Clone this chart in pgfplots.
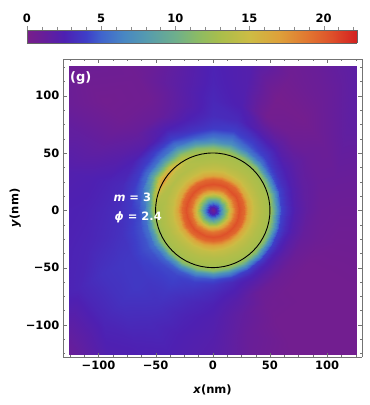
\documentclass[border=0pt]{standalone}
\usepackage{fontspec}
\setmainfont{DejaVu Sans}
\usepackage{pgfplots}
\pgfplotsset{compat=1.18}
\pgfplotsset{colormap={mma}{rgb255(0)=(120,30,138) rgb255(10)=(105,30,152) rgb255(25)=(78,32,178) rgb255(40)=(62,62,200) rgb255(50)=(64,100,205) rgb255(65)=(72,135,195) rgb255(80)=(85,155,175) rgb255(100)=(110,175,140) rgb255(115)=(140,187,100) rgb255(130)=(170,190,75) rgb255(150)=(205,188,68) rgb255(170)=(222,160,58) rgb255(190)=(225,115,48) rgb255(205)=(222,80,42) rgb255(222)=(212,32,32)}}
\newcommand{\tfont}{\bfseries\fontsize{11.5}{13}\selectfont}
\begin{document}
\begin{tikzpicture}
\useasboundingbox (0,0) rectangle (370pt,405pt);
\begin{axis}[
  at={(63pt,48pt)}, anchor=south west, scale only axis,
  width=299pt, height=298pt, view={0}{90},
  xmin=-131, xmax=130.5, ymin=-128, ymax=132,
  colormap name=mma, point meta min=0, point meta max=22.25,
  xtick={-100,-50,0,50,100}, xticklabels={−100,−50,0,50,100},
  ytick={-100,-50,0,50,100}, yticklabels={−100,−50,0,50,100},
  ztick=\empty,
  minor xtick={-125,-112.5,...,125}, minor ytick={-125,-112.5,...,125},
  tick align=inside, major tick length=4pt, minor tick length=2.3pt,
  axis line style={draw=black!55}, tick style={black!55},
  ticklabel style={font=\tfont, black},
  xlabel={\textit{x}(nm)}, ylabel={\textit{y}(nm)},
  label style={font=\tfont},
  xlabel style={at={(axis description cs:0.5,-0.111)}, anchor=center},
  ylabel style={at={(axis description cs:-0.16,0.5)}, anchor=center},
]
\clip (axis cs:-125.5,-125.5) rectangle (axis cs:125.5,125.5);
\addplot3[surf, shader=interp, point meta=explicit, mesh/rows=25, mesh/cols=24]
table[row sep=\\, x expr={\thisrow{r}*cos(\thisrow{t})}, y expr={\thisrow{r}*sin(\thisrow{t})}, z expr=0, meta=v] {
t r v\\
0 0 .5\\0 3 2.5\\0 6 5.5\\0 9 9\\0 12 12\\0 15 15.5\\0 19 19\\0 23 20.5\\0 27 19.5\\0 31 16.5\\0 36 14.5\\0 42 13.5\\0 47 13\\0 50 12.5\\0 53 10.5\\0 56 7\\0 60 4.2\\0 65 3.2\\0 72 2.2\\0 82 1.4\\0 95 .9\\0 112 .8\\0 135 .8\\0 180 .8\\
15 0 .5\\15 3 2.5\\15 6 5.5\\15 9 9\\15 12 12\\15 15 15.5\\15 19 19\\15 23 20.5\\15 27 19.5\\15 31 16.5\\15 36 14.5\\15 42 13.5\\15 47 13\\15 50 12.5\\15 53 10.5\\15 56 7\\15 60 4.2\\15 65 3.2\\15 72 2.3\\15 82 1.5\\15 95 1.1\\15 112 1.1\\15 135 1.1\\15 180 1.4\\
30 0 .5\\30 3 2.5\\30 6 5.5\\30 9 9\\30 12 12\\30 15 15.5\\30 19 19\\30 23 20.5\\30 27 19.5\\30 31 16.5\\30 36 14.5\\30 42 13.5\\30 47 13\\30 50 12.5\\30 53 10.5\\30 56 7.2\\30 60 4.5\\30 65 3.3\\30 72 2.5\\30 82 1.7\\30 95 1.1\\30 112 .9\\30 135 1.5\\30 180 1.8\\
45 0 .5\\45 3 2.5\\45 6 5.5\\45 9 9\\45 12 12\\45 15 15.5\\45 19 19\\45 23 20.5\\45 27 19.5\\45 31 16.5\\45 36 14.5\\45 42 13.5\\45 47 13\\45 50 12.5\\45 53 11\\45 56 8\\45 60 5.5\\45 65 4\\45 72 3\\45 82 1.7\\45 95 .6\\45 112 .3\\45 135 .9\\45 180 1.8\\
60 0 .5\\60 3 2.5\\60 6 5.5\\60 9 9\\60 12 12\\60 15 15.5\\60 19 19\\60 23 20.5\\60 27 19.5\\60 31 16.5\\60 36 14.5\\60 42 13.5\\60 47 13\\60 50 12.5\\60 53 11.5\\60 56 9\\60 60 6\\60 65 4.5\\60 72 3.5\\60 82 1.9\\60 95 .4\\60 112 .2\\60 135 .6\\60 180 1.2\\
75 0 .5\\75 3 2.5\\75 6 5.5\\75 9 9\\75 12 12\\75 15 15.5\\75 19 19\\75 23 20.5\\75 27 19.5\\75 31 16.5\\75 36 14.5\\75 42 13.5\\75 47 13\\75 50 13\\75 53 12\\75 56 10\\75 60 7\\75 65 5.5\\75 72 4\\75 82 3\\75 95 2.4\\75 112 2.2\\75 135 2.1\\75 180 1.7\\
90 0 .5\\90 3 2.5\\90 6 5.5\\90 9 9\\90 12 12\\90 15 15.5\\90 19 19\\90 23 20.5\\90 27 19.5\\90 31 16.5\\90 36 14.5\\90 42 13.5\\90 47 13\\90 50 13\\90 53 12.5\\90 56 10.5\\90 60 7.5\\90 65 5.5\\90 72 3.8\\90 82 3.1\\90 95 2.9\\90 112 2.7\\90 135 2.6\\90 180 2.6\\
105 0 .5\\105 3 2.5\\105 6 5.5\\105 9 9\\105 12 12\\105 15 15.5\\105 19 19\\105 23 20.5\\105 27 19.5\\105 31 16.5\\105 36 14.5\\105 42 13.5\\105 47 13\\105 50 13\\105 53 12.5\\105 56 11\\105 60 8\\105 65 5\\105 72 3.5\\105 82 2.6\\105 95 1.9\\105 112 1.8\\105 135 1.5\\105 180 1.1\\
120 0 .5\\120 3 2.5\\120 6 5.5\\120 9 9\\120 12 12\\120 15 15.5\\120 19 19\\120 23 20.5\\120 27 19.5\\120 31 16.5\\120 36 14.5\\120 42 13.5\\120 47 13.5\\120 50 14\\120 53 13.5\\120 56 12\\120 60 9\\120 65 6\\120 72 4\\120 82 2.5\\120 95 1.1\\120 112 .6\\120 135 .6\\120 180 .6\\
135 0 .5\\135 3 2.5\\135 6 5.5\\135 9 9\\135 12 12\\135 15 15.5\\135 19 19\\135 23 20.5\\135 27 19.5\\135 31 16.5\\135 36 14.5\\135 42 13.5\\135 47 14\\135 50 16\\135 53 15\\135 56 12\\135 60 8.5\\135 65 5.5\\135 72 4\\135 82 1.9\\135 95 1.2\\135 112 .6\\135 135 .4\\135 180 .8\\
150 0 .5\\150 3 2.5\\150 6 5.5\\150 9 9\\150 12 12\\150 15 15.5\\150 19 19\\150 23 20.5\\150 27 19.5\\150 31 16.5\\150 36 14.5\\150 42 13.5\\150 47 14.5\\150 50 17.5\\150 53 16\\150 56 12.5\\150 60 9\\150 65 5.5\\150 72 3.8\\150 82 2.6\\150 95 1.9\\150 112 1.4\\150 135 1.4\\150 180 1.4\\
165 0 .5\\165 3 2.5\\165 6 5.5\\165 9 9\\165 12 12\\165 15 15.5\\165 19 19\\165 23 20.5\\165 27 19.5\\165 31 16.5\\165 36 14.5\\165 42 13.5\\165 47 13.5\\165 50 14.5\\165 53 13\\165 56 10\\165 60 7\\165 65 5\\165 72 3.8\\165 82 3\\165 95 2.7\\165 112 2.4\\165 135 2.2\\165 180 1.9\\
180 0 .5\\180 3 2.5\\180 6 5.5\\180 9 9\\180 12 12\\180 15 15.5\\180 19 19\\180 23 20.5\\180 27 19.5\\180 31 16.5\\180 36 14.5\\180 42 13.5\\180 47 13\\180 50 13\\180 53 11.5\\180 56 8.5\\180 60 5.5\\180 65 4.3\\180 72 3.7\\180 82 3.2\\180 95 2.9\\180 112 2.6\\180 135 2.5\\180 180 2.4\\
195 0 .5\\195 3 2.5\\195 6 5.5\\195 9 9\\195 12 12\\195 15 15.5\\195 19 19\\195 23 20.5\\195 27 19.5\\195 31 16.5\\195 36 14.5\\195 42 13.5\\195 47 13\\195 50 12.5\\195 53 11\\195 56 8\\195 60 5.5\\195 65 4.5\\195 72 4\\195 82 3.4\\195 95 3.1\\195 112 2.8\\195 135 2.6\\195 180 2.5\\
210 0 .5\\210 3 2.5\\210 6 5.5\\210 9 9\\210 12 12\\210 15 15.5\\210 19 19\\210 23 20.5\\210 27 19.5\\210 31 16.5\\210 36 14.5\\210 42 13.5\\210 47 13\\210 50 12.5\\210 53 11\\210 56 8\\210 60 5.5\\210 65 4.6\\210 72 4.2\\210 82 3.7\\210 95 3.6\\210 112 3.4\\210 135 2.8\\210 180 2.2\\
225 0 .5\\225 3 2.5\\225 6 5.5\\225 9 9\\225 12 12\\225 15 15.5\\225 19 19\\225 23 20.5\\225 27 19.5\\225 31 16.5\\225 36 14.5\\225 42 13.5\\225 47 13\\225 50 12.5\\225 53 11\\225 56 7.5\\225 60 5\\225 65 4.3\\225 72 4\\225 82 3.7\\225 95 3.7\\225 112 3.4\\225 135 2.8\\225 180 .9\\
240 0 .5\\240 3 2.5\\240 6 5.5\\240 9 9\\240 12 12\\240 15 15.5\\240 19 19\\240 23 20.5\\240 27 19.5\\240 31 16.5\\240 36 14.5\\240 42 13.5\\240 47 13\\240 50 12.5\\240 53 11\\240 56 7.5\\240 60 4.8\\240 65 4.2\\240 72 4\\240 82 3.6\\240 95 3.3\\240 112 3\\240 135 2.6\\240 180 1.9\\
255 0 .5\\255 3 2.5\\255 6 5.5\\255 9 9\\255 12 12\\255 15 15.5\\255 19 19\\255 23 20.5\\255 27 19.5\\255 31 16.5\\255 36 14.5\\255 42 13.5\\255 47 13\\255 50 12.5\\255 53 11\\255 56 7.5\\255 60 4.8\\255 65 4\\255 72 3.5\\255 82 3\\255 95 2.7\\255 112 2.5\\255 135 2.4\\255 180 2.2\\
270 0 .5\\270 3 2.5\\270 6 5.5\\270 9 9\\270 12 12\\270 15 15.5\\270 19 19\\270 23 20.5\\270 27 19.5\\270 31 16.5\\270 36 14.5\\270 42 13.5\\270 47 13\\270 50 12.5\\270 53 11\\270 56 7.5\\270 60 4.5\\270 65 3.5\\270 72 3\\270 82 2.6\\270 95 2.3\\270 112 2.1\\270 135 1.9\\270 180 1.9\\
285 0 .5\\285 3 2.5\\285 6 5.5\\285 9 9\\285 12 12\\285 15 15.5\\285 19 19\\285 23 20.5\\285 27 19.5\\285 31 16.5\\285 36 14.5\\285 42 13.5\\285 47 13\\285 50 12.5\\285 53 10.5\\285 56 7\\285 60 4.2\\285 65 3\\285 72 2.5\\285 82 1.9\\285 95 1.4\\285 112 1.1\\285 135 .9\\285 180 .8\\
300 0 .5\\300 3 2.5\\300 6 5.5\\300 9 9\\300 12 12\\300 15 15.5\\300 19 19\\300 23 20.5\\300 27 19.5\\300 31 16.5\\300 36 14.5\\300 42 13.5\\300 47 13\\300 50 12.5\\300 53 10.5\\300 56 7\\300 60 4\\300 65 2.8\\300 72 1.9\\300 82 .9\\300 95 .6\\300 112 .4\\300 135 .4\\300 180 .4\\
315 0 .5\\315 3 2.5\\315 6 5.5\\315 9 9\\315 12 12\\315 15 15.5\\315 19 19\\315 23 20.5\\315 27 19.5\\315 31 16.5\\315 36 14.5\\315 42 13.5\\315 47 13\\315 50 12.5\\315 53 10.5\\315 56 7\\315 60 4\\315 65 2.7\\315 72 1.7\\315 82 .8\\315 95 .4\\315 112 .4\\315 135 .4\\315 180 .4\\
330 0 .5\\330 3 2.5\\330 6 5.5\\330 9 9\\330 12 12\\330 15 15.5\\330 19 19\\330 23 20.5\\330 27 19.5\\330 31 16.5\\330 36 14.5\\330 42 13.5\\330 47 13\\330 50 12.5\\330 53 10.5\\330 56 7\\330 60 4\\330 65 2.8\\330 72 1.8\\330 82 .9\\330 95 .4\\330 112 .4\\330 135 .4\\330 180 .4\\
345 0 .5\\345 3 2.5\\345 6 5.5\\345 9 9\\345 12 12\\345 15 15.5\\345 19 19\\345 23 20.5\\345 27 19.5\\345 31 16.5\\345 36 14.5\\345 42 13.5\\345 47 13\\345 50 12.5\\345 53 10.5\\345 56 7\\345 60 4.1\\345 65 3\\345 72 2.1\\345 82 1.2\\345 95 .8\\345 112 .6\\345 135 .6\\345 180 .6\\
360 0 .5\\360 3 2.5\\360 6 5.5\\360 9 9\\360 12 12\\360 15 15.5\\360 19 19\\360 23 20.5\\360 27 19.5\\360 31 16.5\\360 36 14.5\\360 42 13.5\\360 47 13\\360 50 12.5\\360 53 10.5\\360 56 7\\360 60 4.2\\360 65 3.2\\360 72 2.2\\360 82 1.4\\360 95 .9\\360 112 .8\\360 135 .8\\360 180 .8\\
};
\draw[black, line width=0.9pt] (axis cs:0,0) circle[radius=50];
\node[anchor=west, inner sep=0pt, white, font=\bfseries\fontsize{13}{15}\selectfont] at (axis cs:-125,115.5) {(g)};
\node[anchor=west, inner sep=0pt, white, font=\tfont] at (axis cs:-87,11.3) {\textit{m} = 3};
\node[anchor=west, inner sep=0pt, white, font=\tfont] at (axis cs:-86,-6.5) {\textit{ϕ} = 2.4};
\end{axis}
\begin{axis}[
  at={(27pt,362pt)}, anchor=south west, scale only axis,
  width=330pt, height=13pt, view={0}{90},
  xmin=0, xmax=22.25, ymin=0, ymax=1,
  colormap name=mma, point meta min=0, point meta max=22.25,
  ytick=\empty, ztick=\empty,
  xtick={0,5,10,15,20}, xticklabels={0,5,10,15,20},
  minor xtick={1,...,22},
  xtick pos=right, xticklabel pos=right, tick align=outside,
  major tick length=4pt, minor tick length=3pt,
  axis line style={draw=black!60}, tick style={black!45},
  ticklabel style={font=\tfont, black},
]
\addplot3[surf, shader=interp, point meta=explicit, mesh/rows=2, mesh/cols=24]
table[row sep=\\, z expr=0, meta=m] {
x y m\\
0 0 0\\1 0 1\\2 0 2\\3 0 3\\4 0 4\\5 0 5\\6 0 6\\7 0 7\\8 0 8\\9 0 9\\10 0 10\\11 0 11\\12 0 12\\13 0 13\\14 0 14\\15 0 15\\16 0 16\\17 0 17\\18 0 18\\19 0 19\\20 0 20\\21 0 21\\22 0 22\\22.25 0 22.25\\
0 1 0\\1 1 1\\2 1 2\\3 1 3\\4 1 4\\5 1 5\\6 1 6\\7 1 7\\8 1 8\\9 1 9\\10 1 10\\11 1 11\\12 1 12\\13 1 13\\14 1 14\\15 1 15\\16 1 16\\17 1 17\\18 1 18\\19 1 19\\20 1 20\\21 1 21\\22 1 22\\22.25 1 22.25\\
};
\end{axis}
\end{tikzpicture}
\end{document}
